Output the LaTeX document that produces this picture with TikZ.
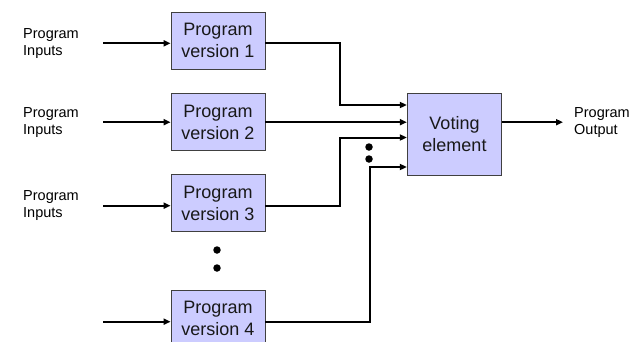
\documentclass[tikz,border=0pt]{standalone}
\usepackage{fontspec}
\setmainfont{Liberation Sans}
\usetikzlibrary{arrows.meta}
\definecolor{boxfill}{RGB}{204,204,255}
\begin{document}
\begin{tikzpicture}[x=1pt,y=-1pt,
  prog/.style={draw=black!75, line width=0.8pt, fill=boxfill, minimum width=94pt,
    minimum height=57pt, inner sep=0pt, align=center,
    font=\fontsize{18}{22}\selectfont, text=black!90},
  lbl/.style={align=left, font=\fontsize{14.5}{17.3}\selectfont, anchor=west, inner sep=0pt},
  wire/.style={line width=2pt},
  arr/.style={wire, -{Triangle[length=7pt,width=6pt]}},
  bigdot/.style={circle, fill=black, inner sep=0pt, minimum size=7.5pt}]
\useasboundingbox (0,0) rectangle (635,341);
\clip (0,0) rectangle (635,341);

% program versions
\node[prog] (b1) at (218,40.5) {Program\\version 1};
\node[prog] (b2) at (218,122) {Program\\version 2};
\node[prog] (b3) at (218,203) {Program\\version 3};
\node[prog] (b4) at (218,318.5) {Program\\version 4};

% voter
\node[prog, minimum width=94.5pt, minimum height=82pt] (v) at (454.5,134) {Voting\\element};

% input rows
\coordinate (in1) at (103,43.3);
\coordinate (in2) at (103,122.2);
\coordinate (in3) at (103,205.7);
\coordinate (in4) at (103,321.7);

\node[lbl] (l1) at (23,43.3) {Program\\Inputs};
\node[lbl] (l2) at (23,122.2) {Program\\Inputs};
\node[lbl] (l3) at (23,205.7) {Program\\Inputs};

\draw[arr] (in1) -- (in1 -| b1.west);
\draw[arr] (in2) -- (in2 -| b2.west);
\draw[arr] (in3) -- (in3 -| b3.west);
\draw[arr] (in4) -- (in4 -| b4.west);

% voter inputs
\coordinate (k1) at (340,105);
\coordinate (k3) at (340,137.5);
\coordinate (k4) at (370,167);

\draw[arr] (b1.east |- in1) -| (k1) -- (k1 -| v.west);
\draw[arr] (b2.east |- in2) -- (in2 -| v.west);
\draw[arr] (b3.east |- in3) -| (k3) -- (k3 -| v.west);
\draw[arr] (b4.east |- in4) -| (k4) -- (k4 -| v.west);

% output
\coordinate (out) at (563,122.2);
\draw[arr] (v.east |- out) -- (out);
\node[lbl] (lo) at (574,122.2) {Program\\Output};

% ellipsis dots
\node[bigdot] (d1) at (217,250) {};
\node[bigdot] (d2) at (217,268) {};
\node[bigdot] (d3) at (369,147) {};
\node[bigdot] (d4) at (369,159) {};
\end{tikzpicture}
\end{document}
